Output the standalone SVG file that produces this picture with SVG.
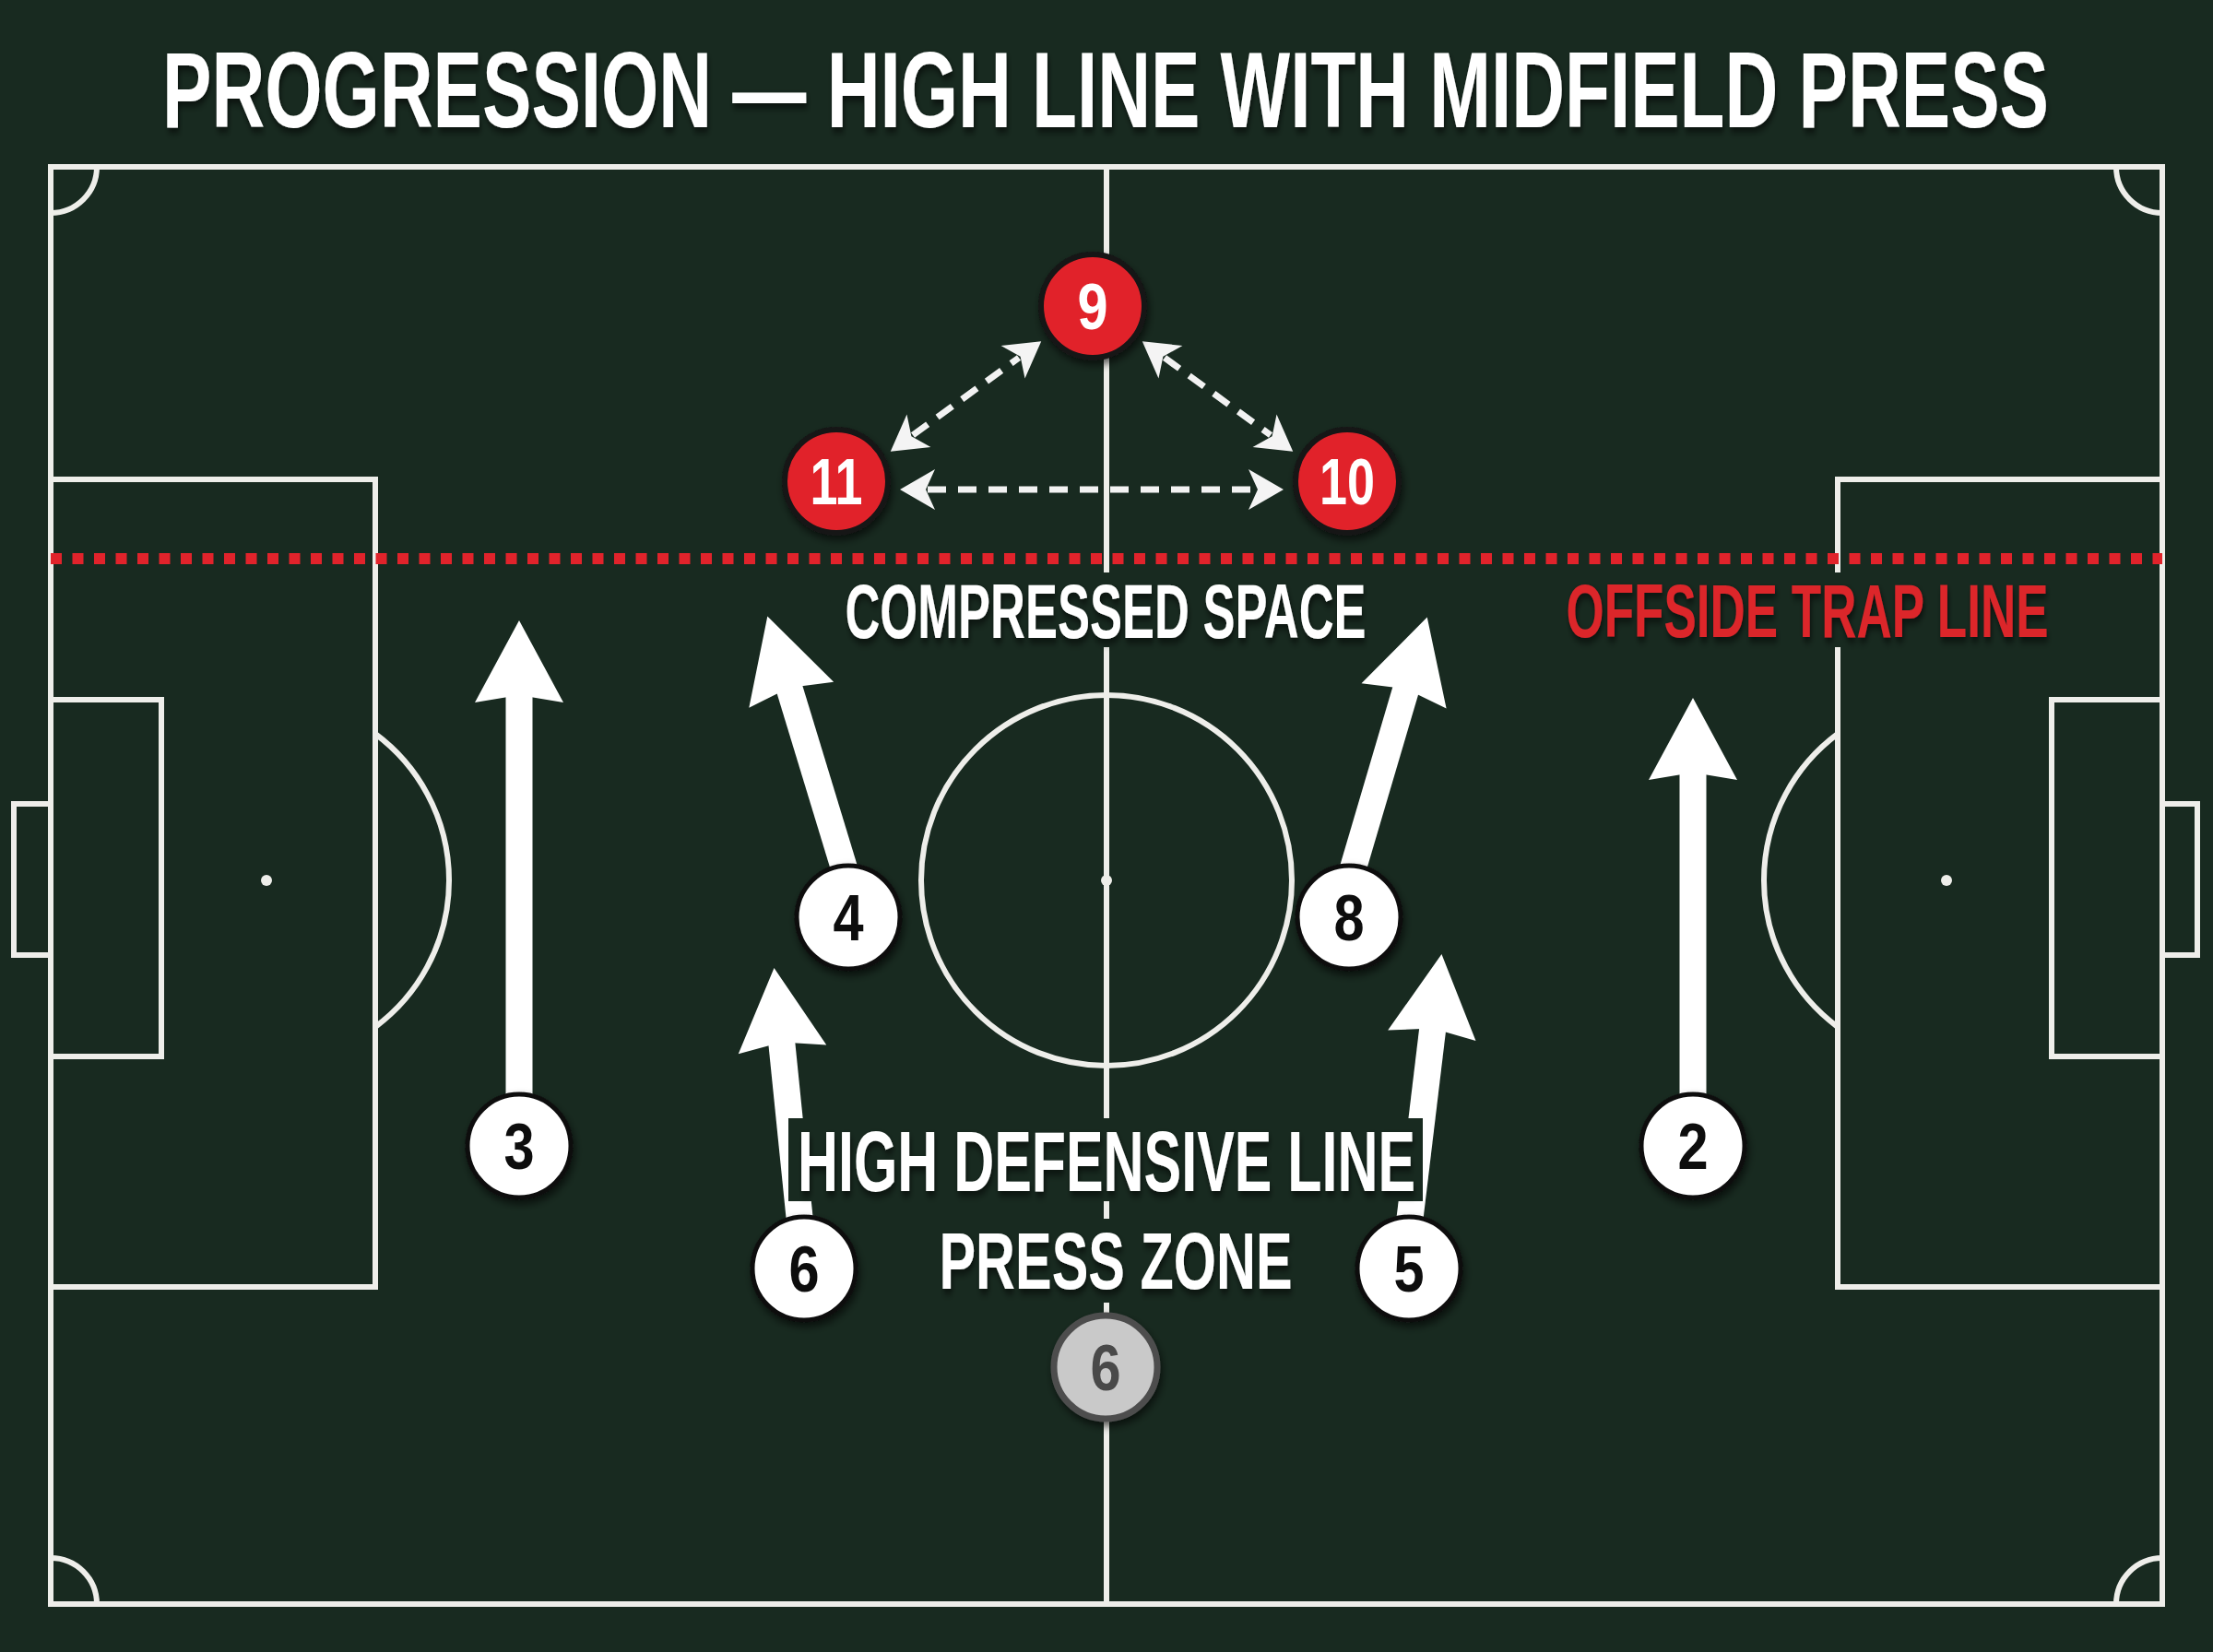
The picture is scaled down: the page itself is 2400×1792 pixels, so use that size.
<svg xmlns="http://www.w3.org/2000/svg" width="2400" height="1792" viewBox="0 0 2400 1792">
<defs>
<style>
.ln{fill:none;stroke:#eeeeea;stroke-width:6}
.bg{fill:#182a20}
.t{font-family:"Liberation Sans","DejaVu Sans",sans-serif;font-weight:bold;text-anchor:middle}
.wt{fill:#ffffff}
.num{font-family:"Liberation Sans","DejaVu Sans",sans-serif;font-weight:bold;text-anchor:middle;font-size:70px}
.wn circle{fill:#ffffff;stroke:#111111;stroke-width:5}
.wn text{fill:#111111}
.rn circle{fill:#e1232b;stroke:#151515;stroke-width:6}
.rn text{fill:#ffffff}
.gn circle{fill:#c9c9c9;stroke:#4e4e4e;stroke-width:7}
.gn text{fill:#4a4a4a}
.dash{fill:none;stroke:#f2f2f2;stroke-width:7;stroke-dasharray:20 13}
.solid{fill:none;stroke:#ffffff;stroke-width:29}
</style>
<filter id="sh" x="-20%" y="-20%" width="140%" height="150%">
<feDropShadow dx="2" dy="5" stdDeviation="4" flood-color="#000" flood-opacity="0.6"/>
</filter>
<marker id="dh" markerUnits="userSpaceOnUse" markerWidth="80" markerHeight="60" viewBox="-20 -30 80 60" refX="0" refY="0" orient="auto-start-reverse">
<path d="M30,0 L-8,-22 L2,0 L-8,22 Z" fill="#f4f4f4"/>
</marker>
<marker id="bh" markerUnits="userSpaceOnUse" markerWidth="120" markerHeight="110" viewBox="-20 -55 120 110" refX="0" refY="0" orient="auto">
<path d="M80,0 L-9,-48 L-1,0 L-9,48 Z" fill="#ffffff"/>
</marker>
</defs>

<rect class="bg" x="0" y="0" width="2400" height="1792"/>

<g id="title">
<text class="t wt" transform="translate(1199,138) scale(0.684,1)" x="0" y="0" font-size="117" textLength="2991" lengthAdjust="spacingAndGlyphs" filter="url(#sh)">PROGRESSION — HIGH LINE WITH MIDFIELD PRESS</text>
</g>

<g id="pitch">
<rect class="ln" x="55" y="181" width="2290" height="1559"/>
<line class="ln" x1="1200" y1="181" x2="1200" y2="1740"/>
<circle class="ln" cx="1200" cy="955" r="201"/>
<circle cx="1200" cy="955" r="6" fill="#eeeeea"/>
<rect class="ln" x="55" y="520" width="352" height="876"/>
<rect class="ln" x="55" y="759" width="120" height="387"/>
<rect class="ln" x="15" y="872" width="40" height="164"/>
<circle cx="289" cy="955" r="6" fill="#eeeeea"/>
<path class="ln" d="M407,796 A198,198 0 0 1 407,1114"/>
<rect class="ln" x="1993" y="520" width="352" height="876"/>
<rect class="ln" x="2225" y="759" width="120" height="387"/>
<rect class="ln" x="2345" y="872" width="38" height="164"/>
<circle cx="2111" cy="955" r="6" fill="#eeeeea"/>
<path class="ln" d="M1993,796 A198,198 0 0 0 1993,1114"/>
<path class="ln" d="M105,181 A50,50 0 0 1 55,231"/>
<path class="ln" d="M2295,181 A50,50 0 0 0 2345,231"/>
<path class="ln" d="M55,1690 A50,50 0 0 1 105,1740"/>
<path class="ln" d="M2295,1740 A50,50 0 0 1 2345,1690"/>
</g>

<g id="offside-line">
<line x1="55" y1="606" x2="2345" y2="606" stroke="#e1232b" stroke-width="12" stroke-dasharray="12 11.5"/>
</g>

<g id="connectors">
<line class="dash" x1="1006" y1="531" x2="1362" y2="531" marker-start="url(#dh)" marker-end="url(#dh)"/>
<line class="dash" x1="990" y1="472" x2="1105" y2="388" marker-start="url(#dh)" marker-end="url(#dh)"/>
<line class="dash" x1="1263" y1="388" x2="1378" y2="472" marker-start="url(#dh)" marker-end="url(#dh)"/>
<line class="solid" x1="563" y1="1200" x2="563" y2="753" marker-end="url(#bh)"/>
<line class="solid" x1="1836" y1="1200" x2="1836" y2="837" marker-end="url(#bh)"/>
<line class="solid" x1="918" y1="950" x2="855.6" y2="745.1" marker-end="url(#bh)"/>
<line class="solid" x1="1465" y1="950" x2="1525.1" y2="746.3" marker-end="url(#bh)"/>
<line class="solid" x1="868" y1="1330" x2="847.6" y2="1129.5" marker-end="url(#bh)"/>
<line class="solid" x1="1528" y1="1330" x2="1553.9" y2="1114.4" marker-end="url(#bh)"/>
</g>

<g id="labels">
<g id="label-compressed">
<rect class="bg" x="905" y="621" width="590" height="81"/>
<text class="t wt" transform="translate(1199,692) scale(0.628,1)" x="0" y="0" font-size="83" textLength="900" lengthAdjust="spacingAndGlyphs" filter="url(#sh)">COMPRESSED SPACE</text>
</g>
<g id="label-offside">
<rect class="bg" x="1685" y="621" width="550" height="81"/>
<text class="t" transform="translate(1960,691) scale(0.653,1)" x="0" y="0" font-size="81" fill="#dc252c" textLength="801" lengthAdjust="spacingAndGlyphs" filter="url(#sh)">OFFSIDE TRAP LINE</text>
</g>
<g id="label-high">
<rect class="bg" x="855" y="1213" width="688" height="90"/>
<text class="t wt" transform="translate(1200,1292) scale(0.655,1)" x="0" y="0" font-size="93" textLength="1023" lengthAdjust="spacingAndGlyphs" filter="url(#sh)">HIGH DEFENSIVE LINE</text>
</g>
<g id="label-press">
<rect class="bg" x="1005" y="1322" width="410" height="91"/>
<text class="t wt" transform="translate(1210,1398) scale(0.683,1)" x="0" y="0" font-size="87" textLength="561" lengthAdjust="spacingAndGlyphs" filter="url(#sh)">PRESS ZONE</text>
</g>
</g>

<g id="node-9" class="rn" filter="url(#sh)"><circle cx="1185" cy="332" r="56"/><text class="num" transform="translate(1185,357) scale(0.85,1)">9</text></g>
<g id="node-11" class="rn" filter="url(#sh)"><circle cx="907" cy="522" r="56"/><text class="num" transform="translate(907,547) scale(0.77,1)">11</text></g>
<g id="node-10" class="rn" filter="url(#sh)"><circle cx="1461" cy="522" r="56"/><text class="num" transform="translate(1461,547) scale(0.77,1)">10</text></g>
<g id="node-3" class="wn" filter="url(#sh)"><circle cx="563" cy="1243" r="56"/><text class="num" transform="translate(563,1268) scale(0.85,1)">3</text></g>
<g id="node-4" class="wn" filter="url(#sh)"><circle cx="920" cy="995" r="56"/><text class="num" transform="translate(920,1020) scale(0.85,1)">4</text></g>
<g id="node-8" class="wn" filter="url(#sh)"><circle cx="1463" cy="995" r="56"/><text class="num" transform="translate(1463,1020) scale(0.85,1)">8</text></g>
<g id="node-2" class="wn" filter="url(#sh)"><circle cx="1836" cy="1243" r="56"/><text class="num" transform="translate(1836,1268) scale(0.85,1)">2</text></g>
<g id="node-6" class="wn" filter="url(#sh)"><circle cx="872" cy="1376" r="56"/><text class="num" transform="translate(872,1401) scale(0.85,1)">6</text></g>
<g id="node-5" class="wn" filter="url(#sh)"><circle cx="1528" cy="1376" r="56"/><text class="num" transform="translate(1528,1401) scale(0.85,1)">5</text></g>
<g id="node-6-ghost" class="gn" filter="url(#sh)"><circle cx="1199" cy="1483" r="56"/><text class="num" transform="translate(1199,1508) scale(0.85,1)">6</text></g>
</svg>
